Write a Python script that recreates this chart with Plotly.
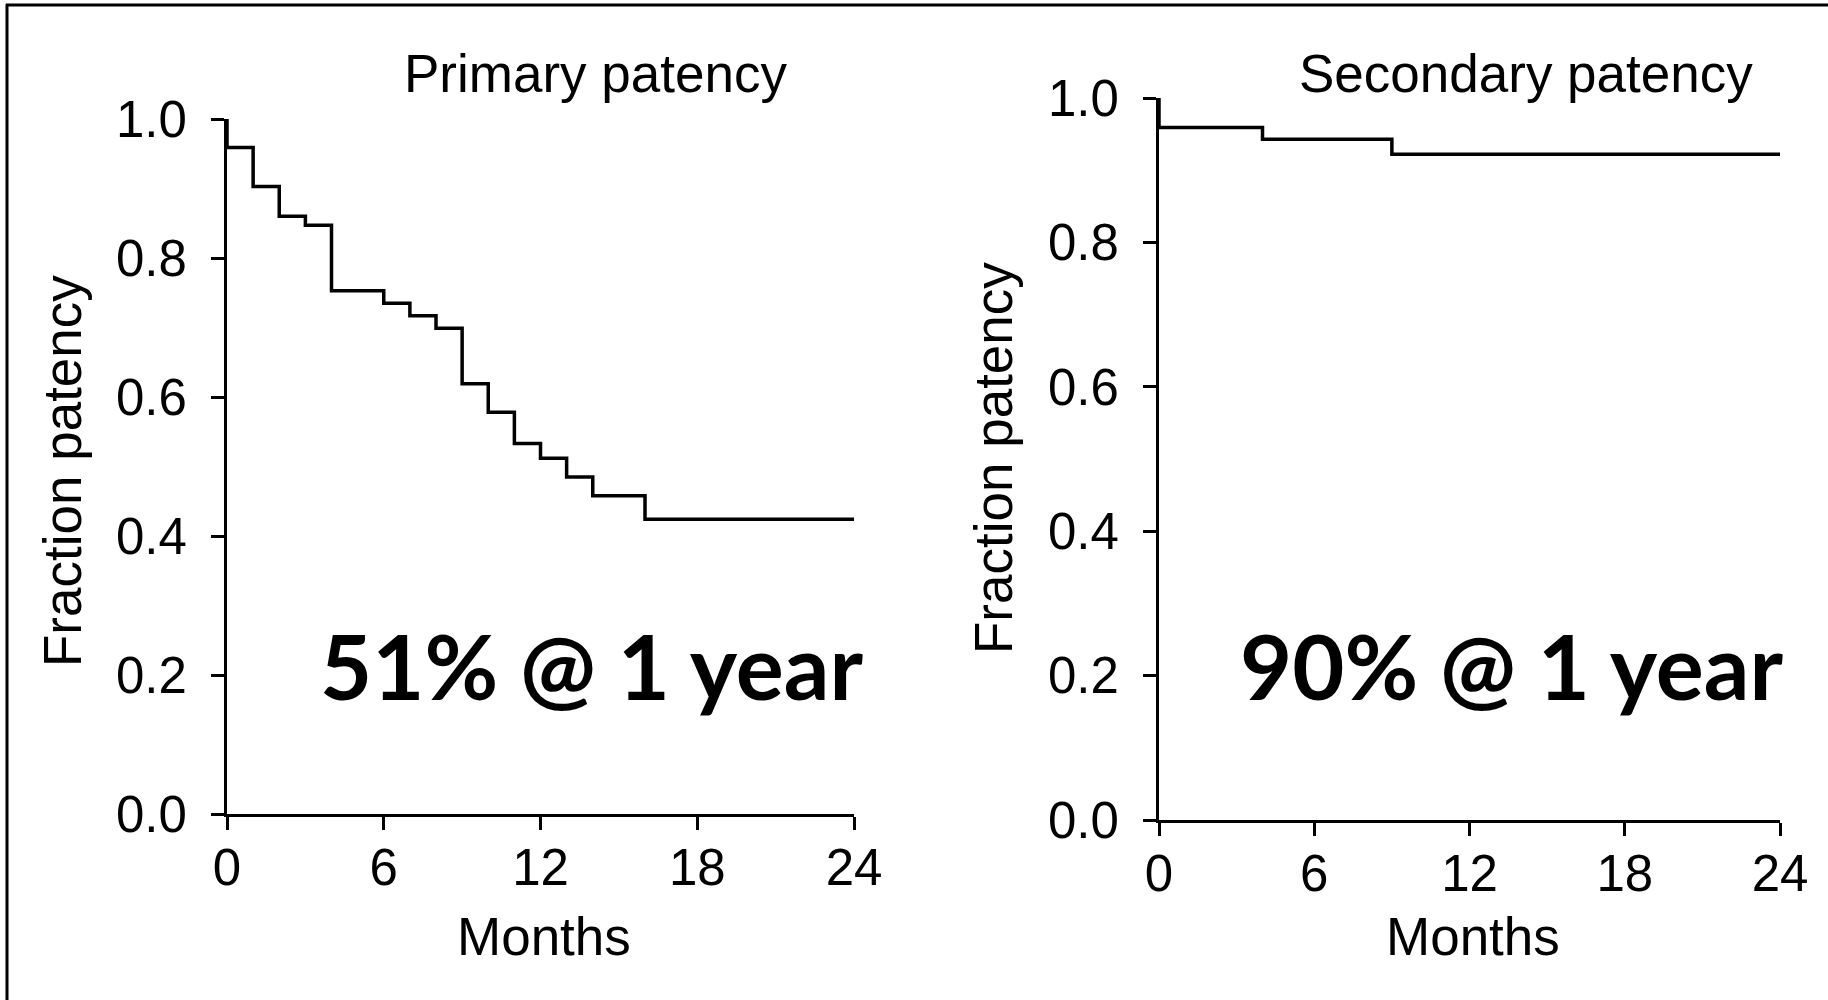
import plotly.graph_objects as go

# Kaplan-Meier step estimates (months, fraction still patent)
primary_months = [0, 0, 1, 2, 3, 4, 6, 7, 8, 9, 10, 11, 12, 13, 14, 16, 24]
primary_frac = [1.0, 0.959, 0.903, 0.860, 0.847, 0.753, 0.735, 0.717, 0.699,
                0.619, 0.578, 0.533, 0.512, 0.485, 0.458, 0.424, 0.424]

secondary_months = [0, 0, 4, 9, 24]
secondary_frac = [1.0, 0.959, 0.943, 0.922, 0.922]

x_ticks = [0, 6, 12, 18, 24]
y_ticks = [0.0, 0.2, 0.4, 0.6, 0.8, 1.0]

panel_titles = ["Primary patency", "Secondary patency"]
panel_notes = ["51% @ 1 year", "90% @ 1 year"]
x_label = "Months"
y_label = "Fraction patency"

W, H = 1828, 1000


def px_x(v):
    return v / W


def px_y(v):
    return 1 - v / H


LABEL_FONT = dict(family="Liberation Sans, Arial, sans-serif", size=53, color="black")
TICK_FONT = dict(family="Liberation Sans, Arial, sans-serif", size=51, color="black")
NOTE_FONT = dict(family="Lato, 'Open Sans', sans-serif", size=90, color="black", weight="bold")

fig = go.Figure()

fig.add_trace(go.Scatter(
    x=primary_months, y=primary_frac, mode="lines", line_shape="hv",
    line=dict(color="black", width=3.5), xaxis="x", yaxis="y",
    showlegend=False, hoverinfo="x+y",
))
fig.add_trace(go.Scatter(
    x=secondary_months, y=secondary_frac, mode="lines", line_shape="hv",
    line=dict(color="black", width=3.5), xaxis="x2", yaxis="y2",
    showlegend=False, hoverinfo="x+y",
))

axis_common = dict(
    showline=True, linecolor="black", linewidth=3,
    ticks="outside", ticklen=13, tickwidth=3, tickcolor="black",
    showgrid=False, zeroline=False, tickfont=TICK_FONT, automargin=False,
)

# panel geometry in pixels: (left, right, top, bottom)
left_box = (227, 854, 119, 814)
right_box = (1159, 1780, 98, 820)

fig.update_layout(
    width=W, height=H,
    margin=dict(l=0, r=0, t=0, b=0, pad=0, autoexpand=False),
    paper_bgcolor="white", plot_bgcolor="white",
    xaxis=dict(domain=[px_x(left_box[0]), px_x(left_box[1])], range=[0, 24],
               tickvals=x_ticks, anchor="y", ticklabelstandoff=-6, **axis_common),
    yaxis=dict(domain=[px_y(left_box[3]), px_y(left_box[2])], range=[0, 1],
               tickvals=y_ticks, tickformat=".1f", anchor="x",
               ticklabelstandoff=14, **axis_common),
    xaxis2=dict(domain=[px_x(right_box[0]), px_x(right_box[1])], range=[0, 24],
                tickvals=x_ticks, anchor="y2", ticklabelstandoff=-6, **axis_common),
    yaxis2=dict(domain=[px_y(right_box[3]), px_y(right_box[2])], range=[0, 1],
                tickvals=y_ticks, tickformat=".1f", anchor="x2",
                ticklabelstandoff=14, **axis_common),
)

annotations = []
# panel titles
for title, cx in zip(panel_titles, [595, 1526]):
    annotations.append(dict(text=title, x=px_x(cx), y=px_y(74), xref="paper", yref="paper",
                            xanchor="center", yanchor="middle", showarrow=False, font=LABEL_FONT))
# x-axis titles
for cx in [544, 1473]:
    annotations.append(dict(text=x_label, x=px_x(cx), y=px_y(936), xref="paper", yref="paper",
                            xanchor="center", yanchor="middle", showarrow=False, font=LABEL_FONT))
# y-axis titles
for cx, cy in [(62, 471), (994, 458)]:
    annotations.append(dict(text=y_label, x=px_x(cx), y=px_y(cy), xref="paper", yref="paper",
                            xanchor="center", yanchor="middle", textangle=-90,
                            showarrow=False, font=LABEL_FONT))
# one-year patency notes
for note, cx in zip(panel_notes, [591, 1511]):
    annotations.append(dict(text=note, x=px_x(cx), y=px_y(665), xref="paper", yref="paper",
                            xanchor="center", yanchor="middle", showarrow=False, font=NOTE_FONT))

fig.update_layout(annotations=annotations)

# frame lines along the top and left edges
fig.update_layout(shapes=[
    dict(type="line", xref="paper", yref="paper", x0=px_x(6), x1=1, y0=px_y(5), y1=px_y(5),
         line=dict(color="black", width=3)),
    dict(type="line", xref="paper", yref="paper", x0=px_x(7), x1=px_x(7), y0=px_y(4), y1=0,
         line=dict(color="black", width=3)),
])

fig.write_html("out.html")
